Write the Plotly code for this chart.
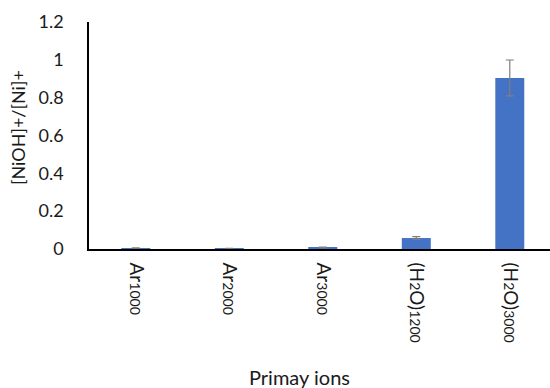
import plotly.graph_objects as go

# Primary ion beams and measured [NiOH]+/[Ni]+ ratios
SUB = "<span style='font-size:14px'>{}</span>"
categories = ["Ar" + SUB.format("1000"),
              "Ar" + SUB.format("2000"),
              "Ar" + SUB.format("3000"),
              "(H" + SUB.format("2") + "O)" + SUB.format("1200"),
              "(H" + SUB.format("2") + "O)" + SUB.format("3000")]
ratios = [0.005, 0.002, 0.008, 0.058, 0.904]
errors = [0.001, 0.001, 0.002, 0.007, 0.095]
y_ticks = [0, 0.2, 0.4, 0.6, 0.8, 1, 1.2]
y_tick_labels = ["0", "0.2", "0.4", "0.6", "0.8", "1", "1.2"]

font_family = "Lato, 'Open Sans', sans-serif"
text_color = "#1a1a1a"

# Plot area in pixels
W, H = 550, 388
L, R, T, B = 89, 0, 22, 139
PW, PH = W - L - R, H - T - B


def px_to_paper(px, py):
    return (px - L) / PW, (H - B - py) / PH


fig = go.Figure(go.Bar(
    x=list(range(len(categories))),
    y=ratios,
    width=0.31,
    marker=dict(color="#4472C4", line=dict(width=0)),
    error_y=dict(type="data", array=errors, visible=True,
                 color="#7f7f7f", thickness=1.2, width=4),
))

ytx, yty = px_to_paper(18, 128)
xtx, xty = px_to_paper(299, 377)

fig.update_layout(
    width=W, height=H,
    margin=dict(l=L, r=R, t=T, b=B),
    paper_bgcolor="white", plot_bgcolor="white",
    showlegend=False,
    font=dict(family=font_family, size=14, color=text_color),
    xaxis=dict(
        range=[-0.5, 4.43],
        tickmode="array",
        tickvals=list(range(len(categories))),
        ticktext=categories,
        tickangle=90,
        ticks="",
        showline=True, linecolor="black", linewidth=1.5,
        showgrid=False, zeroline=False,
        tickfont=dict(size=19, color=text_color),
        ticklabelstandoff=8,
    ),
    yaxis=dict(
        range=[0, 1.2],
        tickmode="array",
        tickvals=y_ticks,
        ticktext=y_tick_labels,
        ticks="",
        showline=True, linecolor="black", linewidth=1.5,
        showgrid=False, zeroline=False,
        tickfont=dict(size=18, color=text_color),
        ticklabelstandoff=20,
    ),
    annotations=[
        dict(text="[NiOH]+/[Ni]+", textangle=-90, x=ytx, y=yty,
             xref="paper", yref="paper", showarrow=False,
             xanchor="center", yanchor="middle",
             font=dict(size=18, color=text_color)),
        dict(text="Primay ions", x=xtx, y=xty,
             xref="paper", yref="paper", showarrow=False,
             xanchor="center", yanchor="middle",
             font=dict(size=20, color=text_color)),
    ],
)

fig.write_html("out.html")
